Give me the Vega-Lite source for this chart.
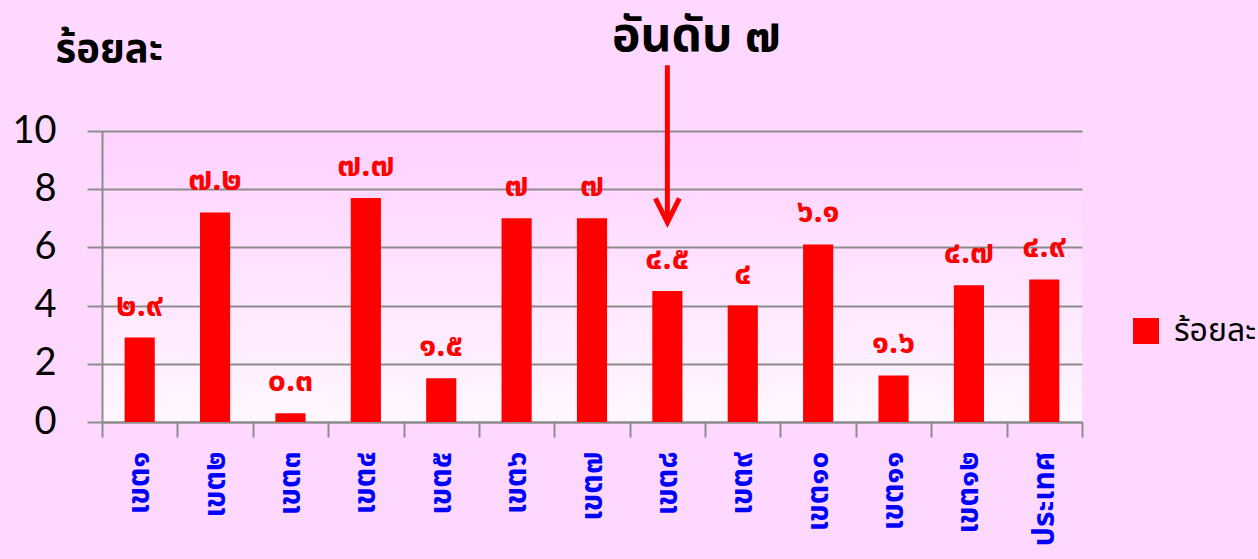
{
  "$schema": "https://vega.github.io/schema/vega-lite/v6.json",
  "autosize": {"type": "none"},
  "width": 980,
  "height": 291,
  "padding": {"left": 102, "top": 131, "right": 176, "bottom": 137},
  "background": "#FFD8FF",
  "title": {
    "text": "อันดับ ๗",
    "anchor": "start",
    "frame": "group",
    "dx": 510,
    "dy": 42,
    "fontSize": 48,
    "fontWeight": "bold",
    "color": "#000000",
    "font": "Noto Sans Thai, Noto Sans, DejaVu Sans, sans-serif",
    "offset": 10
  },
  "config": {
    "view": {
      "stroke": null,
      "fill": {
        "gradient": "linear",
        "x1": 0, "y1": 0, "x2": 0, "y2": 1,
        "stops": [
          {"offset": 0, "color": "#FFD1FF"},
          {"offset": 1, "color": "#FFF7FF"}
        ]
      }
    },
    "axis": {
      "domainColor": "#8c8c8c",
      "domainWidth": 2,
      "tickColor": "#8c8c8c",
      "tickWidth": 2,
      "gridColor": "#8c8c8c",
      "gridWidth": 2,
      "gridOpacity": 1
    }
  },
  "data": {
    "values": [
      {"zone": "เขต๑", "value": 2.9, "label": "๒.๙"},
      {"zone": "เขต๒", "value": 7.2, "label": "๗.๒"},
      {"zone": "เขต๓", "value": 0.3, "label": "๐.๓"},
      {"zone": "เขต๔", "value": 7.7, "label": "๗.๗"},
      {"zone": "เขต๕", "value": 1.5, "label": "๑.๕"},
      {"zone": "เขต๖", "value": 7.0, "label": "๗"},
      {"zone": "เขต๗", "value": 7.0, "label": "๗"},
      {"zone": "เขต๘", "value": 4.5, "label": "๔.๕"},
      {"zone": "เขต๙", "value": 4.0, "label": "๔"},
      {"zone": "เขต๑๐", "value": 6.1, "label": "๖.๑"},
      {"zone": "เขต๑๑", "value": 1.6, "label": "๑.๖"},
      {"zone": "เขต๑๒", "value": 4.7, "label": "๔.๗"},
      {"zone": "ประเทศ", "value": 4.9, "label": "๔.๙"}
    ]
  },
  "encoding": {
    "x": {
      "field": "zone",
      "type": "nominal",
      "sort": null,
      "scale": {"paddingInner": 0, "paddingOuter": 0},
      "axis": {
        "title": null,
        "grid": false,
        "tickBand": "extent",
        "tickSize": 15,
        "labelAngle": -90,
        "labelColor": "#0000FF",
        "labelFontSize": 30,
        "labelFontWeight": "bold",
        "labelFont": "Noto Sans Thai, Noto Sans, DejaVu Sans, sans-serif",
        "labelPadding": 14
      }
    }
  },
  "layer": [
    {
      "mark": {"type": "bar", "color": "#FF0000", "width": {"band": 0.4}},
      "encoding": {
        "y": {
          "field": "value",
          "type": "quantitative",
          "scale": {"domain": [0, 10]},
          "axis": {
            "values": [0, 2, 4, 6, 8, 10],
            "title": "ร้อยละ",
            "titleAngle": 0,
            "titleAlign": "left",
            "titleBaseline": "alphabetic",
            "titleX": -47,
            "titleY": -70,
            "titleFontSize": 40,
            "titleFontWeight": "bold",
            "titleColor": "#000000",
            "titleFont": "Noto Sans Thai, Noto Sans, DejaVu Sans, sans-serif",
            "tickSize": 15,
            "labelFont": "Lato",
            "labelFontSize": 38,
            "labelColor": "#000000",
            "labelPadding": 31
          }
        },
        "color": {
          "datum": "ร้อยละ",
          "scale": {"range": ["#FF0000"]},
          "legend": {
            "title": null,
            "orient": "none",
            "legendX": 1028,
            "legendY": 184,
            "symbolType": "square",
            "symbolSize": 676,
            "symbolStrokeWidth": 0,
            "symbolOpacity": 1,
            "labelFontSize": 32,
            "labelColor": "#000000",
            "labelFont": "Noto Sans Thai, Noto Sans, DejaVu Sans, sans-serif",
            "labelOffset": 12,
            "labelLimit": 200
          }
        }
      }
    },
    {
      "mark": {
        "type": "text",
        "color": "#FF0000",
        "fontSize": 32,
        "fontWeight": "bold",
        "baseline": "middle",
        "dy": -32,
        "font": "Noto Sans Thai, Noto Sans, DejaVu Sans, sans-serif"
      },
      "encoding": {
        "y": {"field": "value", "type": "quantitative"},
        "text": {"field": "label"}
      }
    },
    {
      "data": {"values": [{"zone": "เขต๘", "top": 12.26, "tip": 6.95}]},
      "mark": {"type": "rule", "color": "#FF0000", "strokeWidth": 5},
      "encoding": {
        "y": {"field": "top", "type": "quantitative"},
        "y2": {"field": "tip"}
      }
    },
    {
      "data": {"values": [{"zone": "เขต๘", "tip": 6.86}]},
      "mark": {
        "type": "point",
        "shape": "M-1,-2L0,0L1,-2",
        "size": 576,
        "filled": false,
        "stroke": "#FF0000",
        "strokeWidth": 5,
        "opacity": 1
      },
      "encoding": {
        "y": {"field": "tip", "type": "quantitative"}
      }
    }
  ]
}
